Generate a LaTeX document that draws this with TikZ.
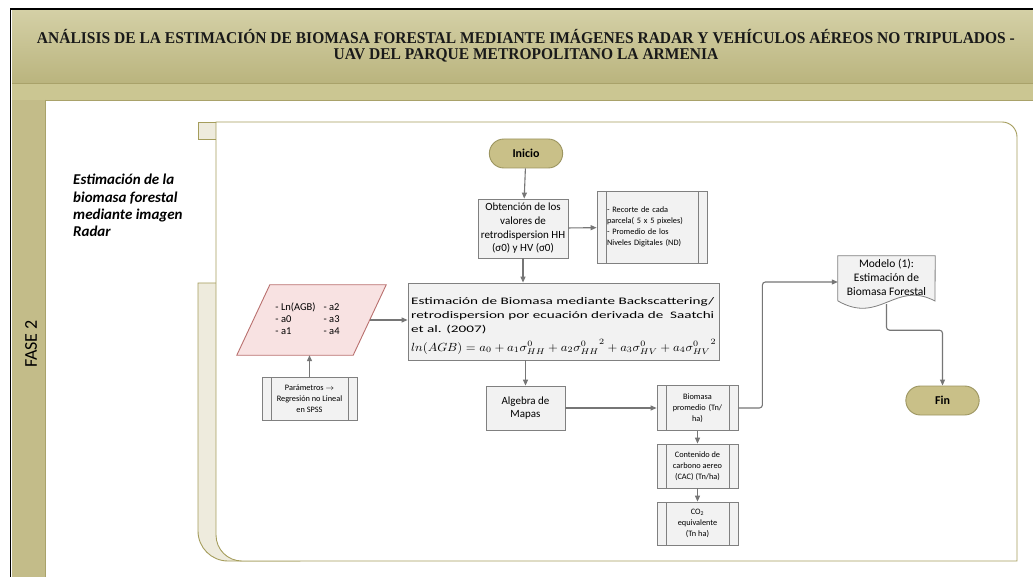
\documentclass[tikz,border=0pt]{standalone}
\usepackage{fontspec}
\usepackage{graphicx}
\setmainfont{Carlito}
\newfontfamily\titlefont{Liberation Serif}
\usetikzlibrary{arrows.meta,shapes.misc,calc}

\definecolor{hdrtop}{HTML}{D4D0A6}
\definecolor{hdrbot}{HTML}{BAB47E}
\definecolor{band}{HTML}{CBC692}
\definecolor{lane}{HTML}{C3BC89}
\definecolor{hdrline}{HTML}{A9A26A}
\definecolor{panelline}{HTML}{A59D5C}
\definecolor{strip}{HTML}{EEEBDD}
\definecolor{boxfill}{HTML}{F2F2F2}
\definecolor{boxline}{HTML}{808080}
\definecolor{termfill}{HTML}{C9C088}
\definecolor{termline}{HTML}{9C9560}
\definecolor{datafill}{HTML}{F8E2E2}
\definecolor{dataline}{HTML}{B9706E}
\definecolor{flow}{HTML}{767676}

\newlength\titlew
\newlength\estw
\newcommand\titlesize{\titlefont\bfseries\fontsize{16.5}{18}\selectfont}
\newcommand\estsize{\fontsize{10}{14}\selectfont}
\newcommand\titleone{ANÁLISIS DE LA ESTIMACIÓN DE BIOMASA FORESTAL MEDIANTE IMÁGENES RADAR Y VEHÍCULOS AÉREOS NO TRIPULADOS -}
\newcommand\estone{Estimación de Biomasa mediante Backscattering/}

% horizontal condensing factors, measured once the fonts are ready
\AtBeginDocument{%
  \settowidth\titlew{\titlesize\titleone}%
  \pgfmathsetmacro\titlefac{978pt/\titlew}%
  \global\let\titlefac\titlefac
  \settowidth\estw{\estsize\estone}%
  \pgfmathsetmacro\estfac{303pt/\estw}%
  \global\let\estfac\estfac}

\tikzset{
  proc/.style={draw=boxline, fill=boxfill, line width=0.8pt, align=center, inner sep=2pt},
  predef/.style={proc, path picture={
      \draw[boxline, line width=0.8pt]
        ([xshift=9pt]path picture bounding box.north west) -- ([xshift=9pt]path picture bounding box.south west)
        ([xshift=-9pt]path picture bounding box.north east) -- ([xshift=-9pt]path picture bounding box.south east);}},
  term/.style={rounded rectangle, draw=termline, fill=termfill, line width=0.9pt,
      font=\bfseries\fontsize{12}{13}\selectfont, minimum height=29pt, minimum width=80pt},
  flowline/.style={draw=flow, line width=1.1pt, rounded corners=3pt,
      -{Triangle[length=6pt,width=5pt]}},
  small/.style={font=\fontsize{8.3}{11}\selectfont},
  mid/.style={font=\fontsize{11}{13.7}\selectfont},
}

\begin{document}
\begin{tikzpicture}[x=1pt,y=-1pt]
\useasboundingbox (0,0) rectangle (1033,577);
\fill[white] (0,0) rectangle (1033,577);

% header bands and swimlane strip
\shade[top color=hdrtop, bottom color=hdrbot] (12,10) rectangle (1033,83);
\fill[band] (12,83) rectangle (1033,100);
\draw[hdrline, line width=0.8pt] (12,83) -- (1033,83) (12,100) -- (1033,100);
\fill[lane] (12,100) rectangle (45,577);
\draw[hdrline, line width=0.8pt] (45,100) -- (45,577);
\draw[black, line width=1.8pt] (10.5,577) -- (10.5,8.8) -- (1033,8.8);

% title, condensed to the band width
\node[font=\titlesize, text=black!90, inner sep=0] (title1) at (526,37)
  {\scalebox{\titlefac}[1]{\titleone}};
\node[font=\titlesize, text=black!90, inner sep=0] (title2) at (526,55)
  {\scalebox{\titlefac}[1]{UAV DEL PARQUE METROPOLITANO LA ARMENIA}};

% lane labels
\node[rotate=90, font=\fontsize{18}{20}\selectfont] (fase) at (31,344) {FASE 2};
\node[anchor=north west, inner sep=0, align=left,
      font=\bfseries\itshape\fontsize{15}{17.3}\selectfont] (lanelabel) at (73,174)
  {Estimación de la\\biomasa forestal\\mediante imagen\\Radar};

% container panel with its tabs
\filldraw[fill=strip, draw=panelline, line width=0.9pt] (198,122) rectangle (216,139);
\filldraw[fill=strip, draw=panelline, line width=0.9pt]
  (300,283) -- (198,283) -- (198,531) .. controls (198,547.6) and (211.4,561) .. (228,561) -- (300,561) -- cycle;
\filldraw[fill=white, draw=panelline, line width=0.9pt]
  (216,122) -- (1002,122) .. controls (1010.3,122) and (1017,128.7) .. (1017,137)
  -- (1017,561) -- (242,561) .. controls (227.6,561) and (216,549.4) .. (216,535) -- cycle;

% flowchart nodes
\node[term] (inicio) at (526,153.5) {Inicio};
\node[proc, mid, minimum width=90pt, minimum height=59pt] (obt) at (523,228.5)
  {Obtención de los\\valores de\\retrodispersion HH\\(σ0) y HV (σ0)};
\node[predef, small, minimum width=110pt, minimum height=72pt, text width=90pt, align=left] (rec) at (652,227)
  {- Recorte de cada\\parcela( 5 x 5 pixeles)\\- Promedio de los\\Niveles Digitales (ND)};

\node[proc, minimum width=311pt, minimum height=77pt] (est) at (563.5,321.5) {};
\node[anchor=north west, inner sep=0, align=left, font=\estsize] (esttxt) at (411,297)
  {\scalebox{\estfac}[1]{\estone}\\
   \resizebox{303pt}{\height}{retrodispersion por ecuación derivada de\ \ Saatchi}\\
   \scalebox{\estfac}[1]{et al. (2007)}};
\node[anchor=base west, inner sep=0] (formula) at (411,351)
  {\resizebox{305pt}{12pt}{$ln(AGB) = a_0 + a_1\sigma^0_{HH} + a_2{\sigma^0_{HH}}^{2} + a_3\sigma^0_{HV} + a_4{\sigma^0_{HV}}^{2}$}};

% input data parallelogram
\node[minimum width=116pt, minimum height=70pt, inner sep=0] (datos) at (311.5,320) {};
\filldraw[fill=datafill, draw=dataline, line width=0.9pt]
  ([xshift=16.5pt]datos.north west) -- ([xshift=16.5pt]datos.north east)
  -- ([xshift=-16.5pt]datos.south east) -- ([xshift=-16.5pt]datos.south west) -- cycle;
\node[font=\fontsize{10.5}{11.8}\selectfont, inner sep=0] (datostxt) at (307.5,320)
  {\begin{tabular}{@{}l@{\hspace{8pt}}l@{}}- Ln(AGB) & - a2\\ - a0 & - a3\\ - a1 & - a4\end{tabular}};

\node[predef, small, minimum width=95pt, minimum height=43pt] (param) at (309.5,398.5)
  {Parámetros $\rightarrow$\\Regresión no Lineal\\en SPSS};
\node[proc, mid, minimum width=79pt, minimum height=44pt] (alg) at (525.5,408) {Algebra de\\Mapas};
\node[predef, small, minimum width=81pt, minimum height=45pt, text width=58pt] (bio) at (697.5,408)
  {Biomasa\\promedio (Tn/\\ha)};
\node[predef, small, minimum width=81pt, minimum height=44pt] (cac) at (697.5,466)
  {Contenido de\\carbono aereo\\(CAC) (Tn/ha)};
\node[predef, small, minimum width=81pt, minimum height=43pt] (co2) at (697.5,523.5)
  {CO\textsubscript{2}\\equivalente\\(Tn ha)};

% output document with wavy base
\node[minimum width=97pt, minimum height=44pt, inner sep=0] (doc) at (886.5,278) {};
\filldraw[fill=boxfill, draw=boxline, line width=0.8pt]
  (doc.south west) -- (doc.north west) -- (doc.north east) -- (935,301)
  .. controls (895,280) and (880,325) .. (838,301) -- cycle;
\node[font=\fontsize{11.5}{14}\selectfont, align=center] (doctxt) at (886.5,277)
  {Modelo (1):\\Estimación de\\Biomasa Forestal};

\node[term] (fin) at (942.5,400.5) {Fin};

% connectors
\draw[flowline] (inicio) -- (obt);
\draw[flowline] (obt) -- (rec);
\draw[flowline] (obt.south) -- (obt.south |- est.north);
\draw[flowline] (datos.east) -- (datos.east -| est.west);
\draw[flowline] (param.north) -- (param.north |- datos.south);
\draw[flowline] (alg.north |- est.south) -- (alg.north);
\draw[flowline] (alg.east) -- (alg.east -| bio.west);
\draw[flowline] (bio.east) -- ([xshift=24pt]bio.east) |- ([yshift=-4pt]doc.west);
\draw[flowline] ([yshift=-4pt]doc.south) -- ([yshift=-30pt]doc.south) -| (fin.north);
\draw[flowline] (bio) -- (cac);
\draw[flowline] (cac) -- (co2);
\end{tikzpicture}
\end{document}
